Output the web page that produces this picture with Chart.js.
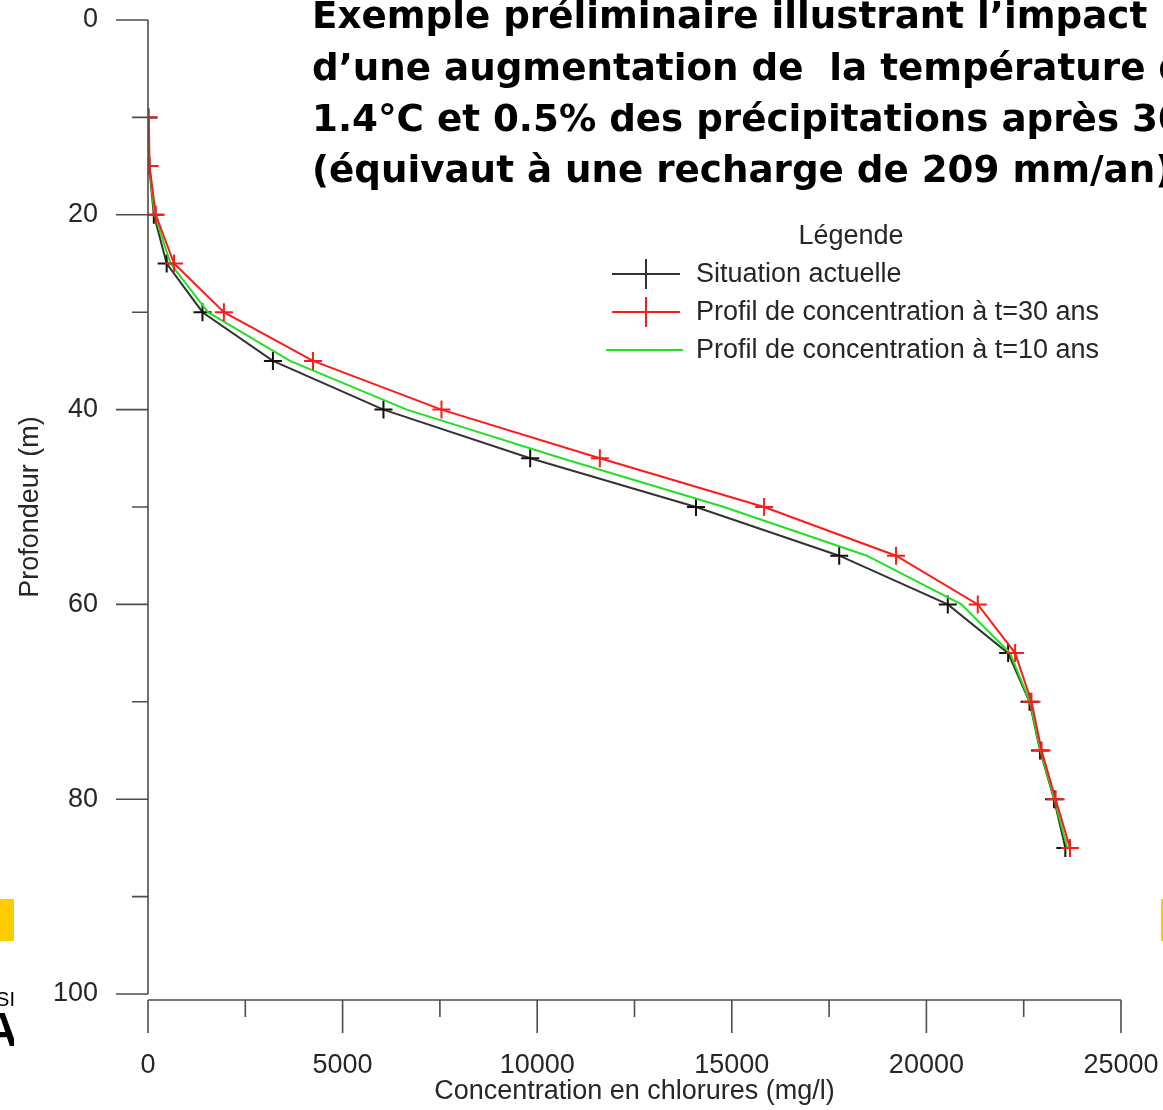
<!DOCTYPE html>
<html>
<head>
<meta charset="utf-8">
<script src="https://cdn.jsdelivr.net/npm/chart.js@4.4.0/dist/chart.umd.min.js"></script>
<style>
  html, body { margin: 0; padding: 0; background: #fff; }
  #wrap { width: 1163px; height: 1110px; position: relative; }
</style>
</head>
<body>
<div id="wrap"><canvas id="graph" width="1163" height="1110"></canvas></div>
<script>
// profondeur (m) des points du profil
const depths = [10, 15, 20, 25, 30, 35, 40, 45, 50, 55, 60, 65, 70, 75, 80, 85]
// concentration en chlorures (mg/l)
const actuelle = [5, 30, 150, 480, 1400, 3210, 6050, 9820, 14080, 17760, 20550, 22100, 22650, 22920, 23280, 23570]
const t30 = [20, 40, 200, 670, 1950, 4240, 7540, 11610, 15830, 19220, 21320, 22280, 22700, 22960, 23320, 23690]
const t10 = [10, 35, 170, 580, 1540, 3650, 6650, 10630, 14800, 18470, 20900, 22150, 22660, 22930, 23290, 23620]

const depthTicks = [0, 20, 40, 60, 80, 100]
const concTicks = [0, 5000, 10000, 15000, 20000, 25000]
const seriesNames = ['Situation actuelle', 'Profil de concentration à t=30 ans', 'Profil de concentration à t=10 ans']
const titleLines = [
  'Exemple préliminaire illustrant l’impact',
  'd’une augmentation de  la température de',
  '1.4°C et 0.5% des précipitations après 30 ans',
  '(équivaut à une recharge de 209 mm/an)'
]

const FONT = "'Liberation Sans', Arial, sans-serif"
const TEXT = '#262626'
const AXIS = '#4d4d4d'

function toPoints (values) {
  return depths.map((d, i) => ({ x: values[i], y: d }))
}

// le cadre est fixe : on ignore le débordement des étiquettes
function fixScale (size) {
  return s => {
    if (s.isHorizontal()) s.height = size
    else s.width = size
    s.paddingTop = 0
    s.paddingBottom = 0
    s.paddingLeft = 0
    s.paddingRight = 0
  }
}

const decor = {
  id: 'decor',
  afterDraw (chart) {
    const { ctx, chartArea, scales } = chart
    const xs = scales.x
    const ys = scales.y
    const xAxisY = chartArea.bottom + 6
    ctx.save()

    // axes
    ctx.strokeStyle = AXIS
    ctx.lineWidth = 1.6
    ctx.beginPath()
    ctx.moveTo(chartArea.left, chartArea.top)
    ctx.lineTo(chartArea.left, chartArea.bottom)
    ctx.moveTo(chartArea.left, xAxisY)
    ctx.lineTo(chartArea.right, xAxisY)
    ys.ticks.forEach(t => {
      const py = ys.getPixelForValue(t.value)
      const len = depthTicks.includes(t.value) ? 32 : 16
      ctx.moveTo(chartArea.left - len, py)
      ctx.lineTo(chartArea.left, py)
    })
    xs.ticks.forEach(t => {
      const px = xs.getPixelForValue(t.value)
      const len = concTicks.includes(t.value) ? 33 : 17
      ctx.moveTo(px, xAxisY)
      ctx.lineTo(px, xAxisY + len)
    })
    ctx.stroke()

    // title
    ctx.fillStyle = '#000'
    ctx.font = "bold 38px 'DejaVu Sans'"
    ctx.textBaseline = 'alphabetic'
    ctx.textAlign = 'left'
    const baselines = [28, 80, 131, 182]
    titleLines.forEach((line, i) => {
      ctx.save()
      ctx.translate(312, baselines[i])
      ctx.scale(0.98, 1)
      ctx.fillText(line, 0, 0)
      ctx.restore()
    })

    // legend
    ctx.fillStyle = TEXT
    ctx.font = '27px ' + FONT
    ctx.textAlign = 'center'
    ctx.textBaseline = 'middle'
    ctx.fillText('Légende', 851, 237)
    ctx.textAlign = 'left'
    const rows = [274, 312, 350]
    chart.data.datasets.forEach((ds, i) => {
      const y = rows[i]
      ctx.strokeStyle = ds.borderColor
      ctx.lineWidth = 2
      ctx.beginPath()
      if (ds.pointRadius > 0) {
        ctx.moveTo(612, y)
        ctx.lineTo(680, y)
        ctx.moveTo(646, y - 15)
        ctx.lineTo(646, y + 15)
      } else {
        ctx.moveTo(606, y)
        ctx.lineTo(683, y)
      }
      ctx.stroke()
      ctx.fillStyle = TEXT
      ctx.fillText(ds.label, 696, y + 1)
    })

    // restes du fond de diapositive
    ctx.fillStyle = '#ffcc00'
    ctx.fillRect(0, 899, 14, 42)
    ctx.fillRect(1161, 899, 2, 42)
    ctx.beginPath()
    ctx.rect(0, 950, 14, 110)
    ctx.clip()
    ctx.fillStyle = '#000'
    ctx.textAlign = 'right'
    ctx.textBaseline = 'alphabetic'
    ctx.font = '20px ' + FONT
    ctx.fillText('SI', 15, 1006)
    ctx.font = 'bold 48px ' + FONT
    ctx.fillText('A', 18, 1046)
    ctx.restore()
  }
}

Chart.defaults.font.family = FONT
Chart.defaults.font.size = 27
Chart.defaults.color = TEXT

new Chart('graph', {
  type: 'scatter',
  data: {
    datasets: [
      {
        label: seriesNames[0],
        data: toPoints(actuelle),
        showLine: true,
        borderColor: '#333333',
        borderWidth: 2,
        pointStyle: 'cross',
        pointRadius: 9,
        pointBorderColor: '#111111',
        pointBorderWidth: 2,
        order: 2
      },
      {
        label: seriesNames[1],
        data: toPoints(t30),
        showLine: true,
        borderColor: '#ff1a1a',
        borderWidth: 2,
        pointStyle: 'cross',
        pointRadius: 9,
        pointBorderColor: '#ff1a1a',
        pointBorderWidth: 2,
        order: 0
      },
      {
        label: seriesNames[2],
        data: toPoints(t10),
        showLine: true,
        borderColor: '#22e022',
        borderWidth: 2,
        pointRadius: 0,
        order: 1
      }
    ]
  },
  options: {
    responsive: false,
    animation: false,
    devicePixelRatio: 1,
    layout: { padding: { top: 20, right: 42, bottom: 0, left: 0 } },
    plugins: {
      legend: { display: false },
      tooltip: { enabled: false }
    },
    scales: {
      x: {
        type: 'linear',
        min: 0,
        max: 25000,
        border: { display: false },
        grid: { drawOnChartArea: false, tickLength: 39, color: 'rgba(0,0,0,0)' },
        ticks: {
          stepSize: 2500,
          autoSkip: false,
          maxRotation: 0,
          padding: 16,
          callback: v => concTicks.includes(v) ? String(v) : ''
        },
        title: {
          display: true,
          text: 'Concentration en chlorures (mg/l)',
          padding: { top: 0, bottom: 2 }
        },
        afterFit: fixScale(116)
      },
      y: {
        type: 'linear',
        reverse: true,
        min: 0,
        max: 100,
        border: { display: false },
        grid: { drawOnChartArea: false, tickLength: 32, color: 'rgba(0,0,0,0)' },
        ticks: {
          stepSize: 10,
          autoSkip: false,
          padding: 18,
          callback: v => depthTicks.includes(v) ? String(v) : ''
        },
        title: {
          display: true,
          text: 'Profondeur (m)',
          padding: { top: 14, bottom: 0 }
        },
        afterFit: fixScale(148)
      }
    }
  },
  plugins: [decor]
})
</script>
</body>
</html>
